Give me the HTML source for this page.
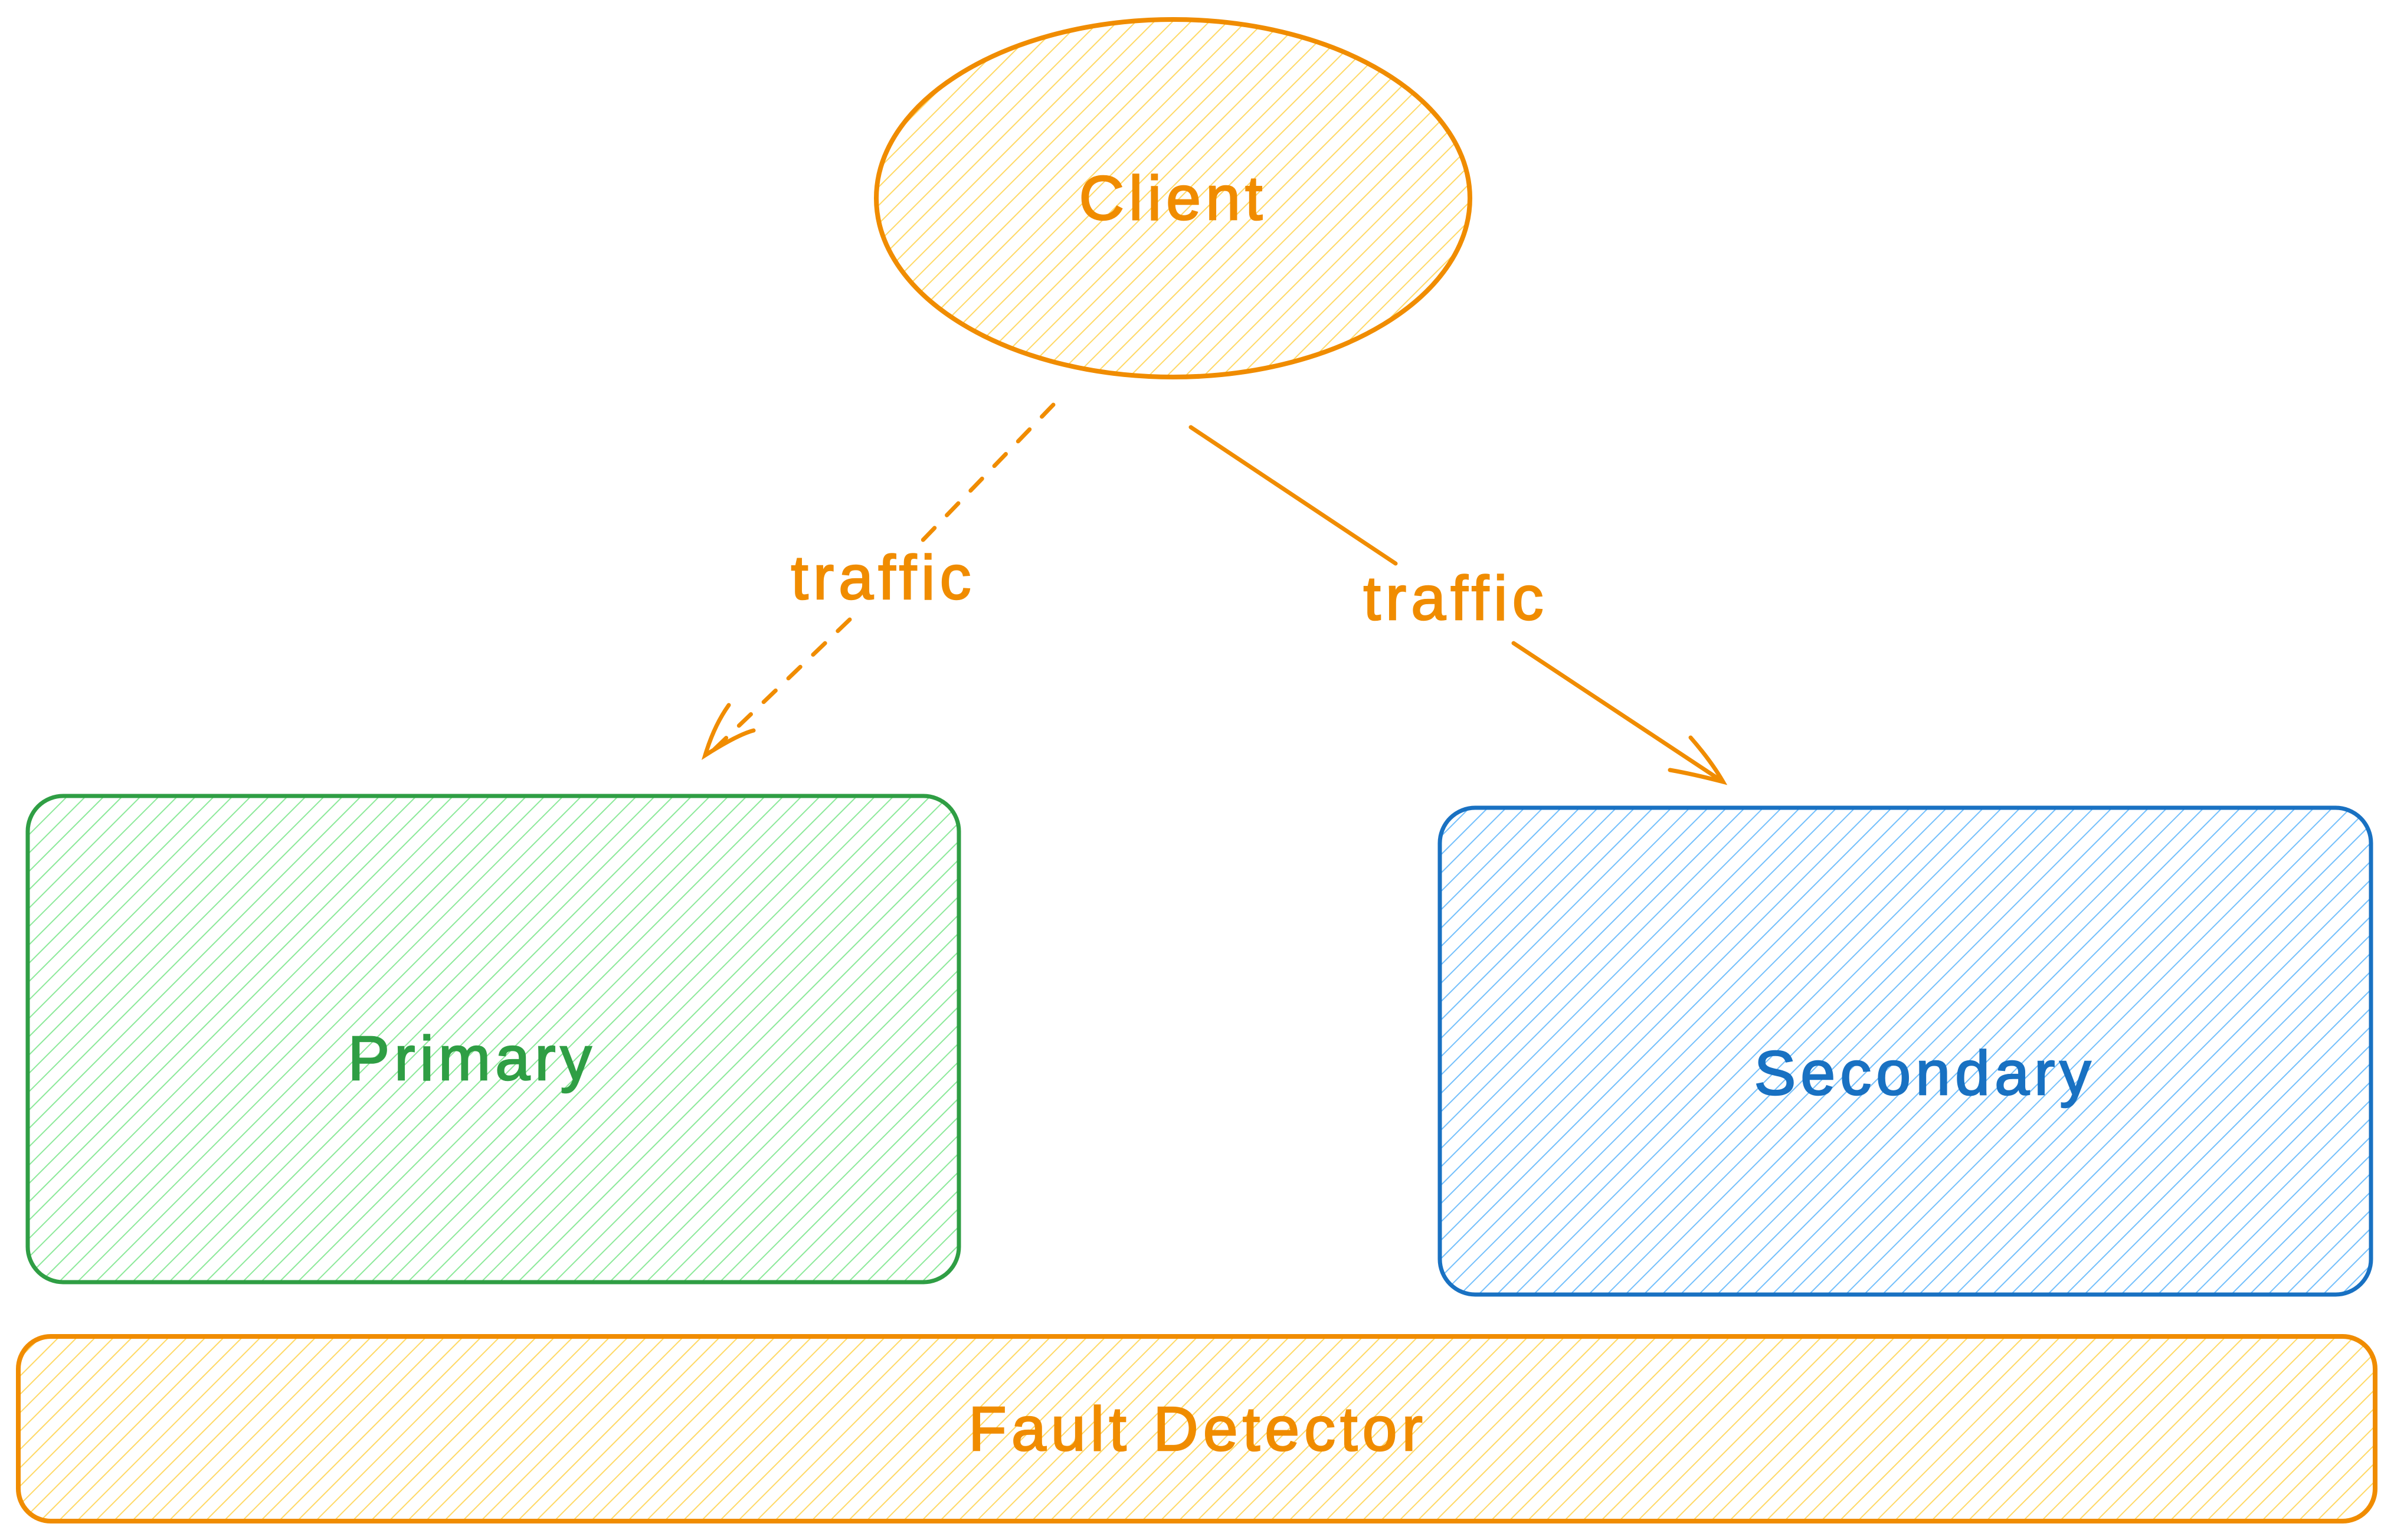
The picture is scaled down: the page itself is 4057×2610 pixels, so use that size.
<!DOCTYPE html>
<html><head><meta charset="utf-8"><style>
html,body{margin:0;padding:0;background:#fff;}
svg{display:block;}
text{font-family:"Liberation Sans",sans-serif;letter-spacing:8px;stroke-width:2.5px;}
</style></head><body>
<svg width="4057" height="2610" viewBox="0 0 4057 2610" xmlns="http://www.w3.org/2000/svg">
<defs>
<pattern id="hy" width="22" height="22" patternUnits="userSpaceOnUse" patternTransform="rotate(45)">
<line x1="0" y1="0" x2="0" y2="22" stroke="#ffd966" stroke-width="4"/></pattern>
<pattern id="hg" width="22" height="22" patternUnits="userSpaceOnUse" patternTransform="rotate(45)">
<line x1="0" y1="0" x2="0" y2="22" stroke="#8ce99a" stroke-width="4"/></pattern>
<pattern id="hb" width="22" height="22" patternUnits="userSpaceOnUse" patternTransform="rotate(45)">
<line x1="0" y1="0" x2="0" y2="22" stroke="#74c0fc" stroke-width="4"/></pattern>
</defs>
<ellipse cx="1988" cy="336" rx="503" ry="303" fill="url(#hy)" stroke="#f08c00" stroke-width="8"/>
<text x="1988" y="372" font-size="106" fill="#f08c00" stroke="#f08c00" text-anchor="middle">Client</text>
<rect x="47" y="1349" width="1578" height="824" rx="60" fill="url(#hg)" stroke="#2f9e44" stroke-width="7"/>
<text x="800" y="1830" font-size="106" fill="#2f9e44" stroke="#2f9e44" text-anchor="middle">Primary</text>
<rect x="2440" y="1369" width="1578" height="825" rx="60" fill="url(#hb)" stroke="#1971c2" stroke-width="7"/>
<text x="3262" y="1855" font-size="106" fill="#1971c2" stroke="#1971c2" text-anchor="middle">Secondary</text>
<rect x="31" y="2265" width="3994" height="313" rx="55" fill="url(#hy)" stroke="#f08c00" stroke-width="8"/>
<text x="2030" y="2458" font-size="106" fill="#f08c00" stroke="#f08c00" text-anchor="middle">Fault Detector</text>
<g stroke="#f08c00" stroke-width="7" fill="none" stroke-linecap="round">
<path d="M1785 686 L1545 935" stroke-dasharray="28 30"/>
<path d="M1440 1050 L1200 1280" stroke-dasharray="28 30"/>
<path d="M1235 1195 Q1210 1230 1195 1280 Q1250 1245 1277 1238"/>
<path d="M2018 724 L2365 955"/>
<path d="M2565 1090 L2920 1325"/>
<path d="M2865 1250 Q2900 1290 2920 1325 Q2870 1312 2830 1305"/>
</g>
<text x="1497" y="1015" font-size="106" fill="#f08c00" stroke="#f08c00" text-anchor="middle">traffic</text>
<text x="2467" y="1050" font-size="106" fill="#f08c00" stroke="#f08c00" text-anchor="middle">traffic</text>
</svg>
</body></html>
